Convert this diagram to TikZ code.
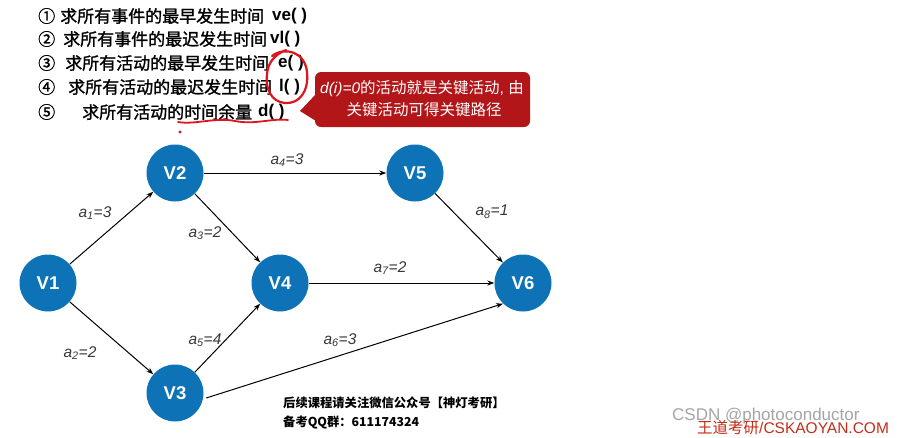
\documentclass[tikz,border=0pt]{standalone}
\usepackage{fontspec}
\setmainfont{Liberation Sans}
\newfontfamily\cjk{Noto Sans CJK SC}
\newfontfamily\cjkheavy{Noto Sans CJK SC}[FakeBold=1.2]
\usetikzlibrary{arrows.meta}
\definecolor{nodeblue}{RGB}{14,114,183}
\definecolor{callred}{RGB}{178,22,24}
\definecolor{penred}{RGB}{222,20,30}
\definecolor{lblgray}{RGB}{55,55,55}
\definecolor{wmgray}{RGB}{165,165,165}
\definecolor{wmred}{RGB}{195,45,25}
\newcommand\elab[2]{\textit{a\textsubscript{#1}=#2}}
\begin{document}
\begin{tikzpicture}[x=1pt,y=-1pt,
  vnode/.style={circle,fill=nodeblue,minimum size=57pt,inner sep=0pt,text=white,font=\bfseries\fontsize{18.5}{18.5}\selectfont},
  edge/.style={-{Stealth[length=7pt,width=5pt]},line width=1pt,black},
  elabel/.style={font=\fontsize{15.5}{15.5}\selectfont,text=lblgray,inner sep=0pt},
  topcjk/.style={anchor=west,inner sep=0pt,font=\cjkheavy\fontsize{17}{17}\selectfont},
  toplat/.style={anchor=west,inner sep=0pt,font=\bfseries\fontsize{17}{17}\selectfont},
  redpen/.style={penred,line width=2.2pt,line cap=round,line join=round},
  calltext/.style={text=white,inner sep=0pt,font=\fontsize{15.5}{15.5}\selectfont},
  foot/.style={anchor=west,inner sep=0pt,font=\cjk\bfseries\fontsize{12.3}{12.3}\selectfont}
]
\useasboundingbox (0,0) rectangle (898,437);
\fill[white] (0,0) rectangle (898,437);

% top list
\node[topcjk] (n1) at (38,16) {①};
\node[topcjk] (t1) at (60,16) {求所有事件的最早发生时间};
\node[toplat] (l1) at (272,16) {ve( )};
\node[topcjk] (n2) at (38,39) {②};
\node[topcjk] (t2) at (63,39) {求所有事件的最迟发生时间};
\node[toplat] (l2) at (270,39) {vl( )};
\node[topcjk] (n3) at (38,63) {③};
\node[topcjk] (t3) at (65,63) {求所有活动的最早发生时间};
\node[toplat] (l3) at (278,63) {e( )};
\node[topcjk] (n4) at (38,87) {④};
\node[topcjk] (t4) at (68,87) {求所有活动的最迟发生时间};
\node[toplat] (l4) at (279,87) {l( )};
\node[topcjk] (n5) at (38,112) {⑤};
\node[topcjk] (t5) at (82,112) {求所有活动的时间余量};
\node[toplat] (l5) at (258,112) {d( )};

% red annotations
\draw[redpen] (272,56) .. controls (285,46) and (305,52) .. (307,72)
  .. controls (309,92) and (299,104) .. (285,103)
  .. controls (271,102) and (265,88) .. (267,74)
  .. controls (268,63) and (274,55) .. (286,50);
\draw[redpen,line width=1.8pt] (178,122) .. controls (195,125) and (215,117) .. (235,121)
  .. controls (255,125) and (272,118) .. (288,120);
\fill[penred] (180,132) circle (1.6);

% callout
\fill[callred,rounded corners=6pt] (315,72) rectangle (530,127);
\fill[callred] (316,94) -- (300,111) -- (316,121) -- cycle;
\node[calltext] (c1) at (422,89) {\textit{d(i)=0}{\cjk 的活动就是关键活动}, {\cjk 由}};
\node[calltext] (c2) at (424,110) {\cjk 关键活动可得关键路径};

% graph
\node[vnode] (V1) at (48,283) {V1};
\node[vnode] (V2) at (175,173) {V2};
\node[vnode] (V3) at (175,393) {V3};
\node[vnode] (V4) at (280,283) {V4};
\node[vnode] (V5) at (415,173) {V5};
\node[vnode] (V6) at (523,283) {V6};

\draw[edge] (V1) -- (V2);
\draw[edge] (V1) -- (V3);
\draw[edge] (V2) -- (V4);
\draw[edge] (V2) -- (V5);
\draw[edge] (V3) -- (V4);
\draw[edge] ([xshift=3pt]V3.-10) -- (V6.226);
\draw[edge] (V4) -- (V6);
\draw[edge] (V5) -- (V6);

\node[elabel] (e1) at (95,213) {\elab{1}{3}};
\node[elabel] (e2) at (80,353) {\elab{2}{2}};
\node[elabel] (e3) at (205,233) {\elab{3}{2}};
\node[elabel] (e4) at (287,160) {\elab{4}{3}};
\node[elabel] (e5) at (205,340) {\elab{5}{4}};
\node[elabel] (e6) at (340,340) {\elab{6}{3}};
\node[elabel] (e7) at (390,268) {\elab{7}{2}};
\node[elabel] (e8) at (492,212) {\elab{8}{1}};

% footer
\node[foot] (f1) at (283,403) {后续课程请关注微信公众号【神灯考研】};
\node[foot] (f2) at (283,422) {备考QQ群：611174324};

% watermarks
\node[anchor=west,inner sep=0pt,text=wmgray,font=\fontsize{17}{17}\selectfont] (w1) at (672,416) {CSDN @photoconductor};
\node[anchor=west,inner sep=0pt,text=wmred,font=\fontsize{15.5}{15.5}\selectfont] (w2) at (697,428) {{\cjk 王道考研}/CSKAOYAN.COM};
\end{tikzpicture}
\end{document}
